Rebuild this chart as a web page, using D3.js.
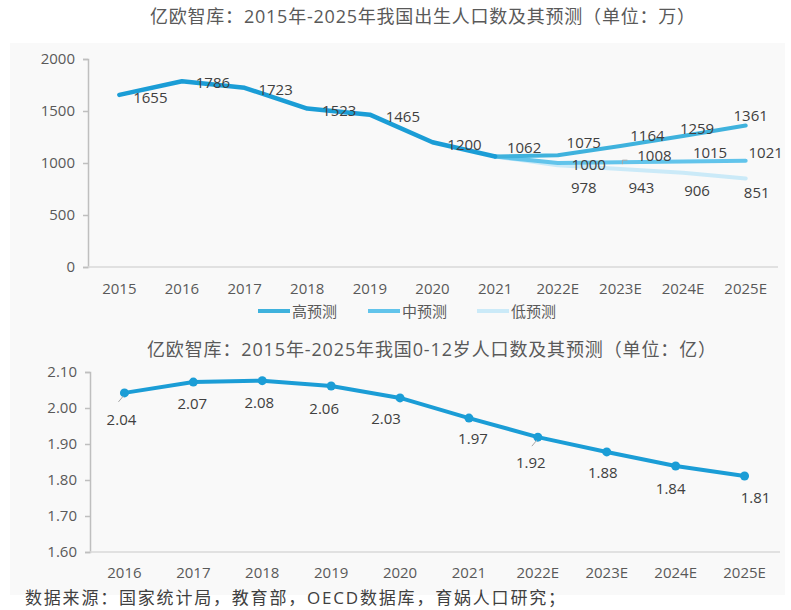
<!DOCTYPE html>
<html>
<head>
<meta charset="utf-8">
<script src="https://cdn.jsdelivr.net/npm/d3@7"></script>
<style>
  body { margin: 0; background: #fff; }
  text { font-family: "Open Sans", "Noto Sans CJK SC", sans-serif; fill: #595959; }
</style>
</head>
<body>
<svg id="chart"></svg>
<script>
// births (万)
const years1   = ['2015','2016','2017','2018','2019','2020','2021','2022E','2023E','2024E','2025E']
const histYears = ['2015','2016','2017','2018','2019','2020','2021']
const histVals  = [1655, 1786, 1723, 1523, 1465, 1200, 1062]
const fcYears   = ['2021','2022E','2023E','2024E','2025E']
const highVals  = [1062, 1075, 1164, 1259, 1361]
const midVals   = [1062, 1000, 1008, 1015, 1021]
const lowVals   = [1062,  978,  943,  906,  851]
const yTicks1   = [0, 500, 1000, 1500, 2000]
const seriesNames = ['高预测', '中预测', '低预测']

// 0-12 population (亿)
const years2  = ['2016','2017','2018','2019','2020','2021','2022E','2023E','2024E','2025E']
const kidVals = [2.042, 2.072, 2.076, 2.061, 2.028, 1.972, 1.919, 1.878, 1.839, 1.811]
const yTicks2 = [1.6, 1.7, 1.8, 1.9, 2.0, 2.1]

const title1 = '亿欧智库：2015年-2025年我国出生人口数及其预测（单位：万）'
const title2 = '亿欧智库：2015年-2025年我国0-12岁人口数及其预测（单位：亿）'
const source = '数据来源：国家统计局，教育部，OECD数据库，育娲人口研究；'

const W = 791, H = 610
const colors = { hist: '#1b9dd6', high: '#3fb2dd', mid: '#62c4eb', low: '#cbeaf8' }

// label nudges (center offsets from the point)
const histOff = [[31,2],[31,1],[31,1],[32,1],[33,1],[32,2],[29,-10]]
const highOff = [[26,-13],[27,-11],[14,-8],[5,-10]]
const midOff  = [[31,1],[34,-7],[27,-9],[20,-9]]
const lowOff  = [[26,22],[21,18],[14,17],[11,14]]
const kidOff  = [[-3,26],[-1,21],[-3,21],[-7,22],[-14,20],[4,20],[-7,25],[-4,20],[-5,22],[11,21]]

const translate = (x, y) => 'translate(' + x + ',' + y + ')'

const svg = d3.select('#chart').attr('width', W).attr('height', H)

svg.append('rect')
    .attr('x', 10).attr('y', 43).attr('width', 775).attr('height', 552)
    .attr('fill', '#f9f9f9')

// ---------- top chart ----------
const x1 = d3.scaleBand().domain(years1).range([88, 777])
const y1 = d3.scaleLinear().domain([0, 2000]).range([267, 59])
const cx1 = d => x1(d) + x1.bandwidth() / 2

svg.append('text')
    .attr('x', 150).attr('y', 16)
    .attr('dominant-baseline', 'central')
    .attr('textLength', 545).attr('lengthAdjust', 'spacing')
    .style('font-size', '18px')
    .text(title1)

const gy1 = svg.append('g').attr('transform', translate(88, 0))
    .call(d3.axisLeft(y1).tickValues(yTicks1).tickFormat(d3.format('d')).tickSize(5).tickPadding(8))
gy1.select('.domain').attr('stroke', '#bfbfbf').attr('stroke-width', 1.5)
gy1.selectAll('.tick line').attr('stroke', '#bfbfbf').attr('stroke-width', 1.5)
gy1.selectAll('text').style('font-size', '15px').style('fill', '#595959')

const gx1 = svg.append('g').attr('transform', translate(0, 267))
    .call(d3.axisBottom(x1).tickSize(0).tickPadding(16))
gx1.select('.domain').attr('d', 'M88,0H778').attr('stroke', '#d9d9d9').attr('stroke-width', 1.5)
gx1.selectAll('text').style('font-size', '15px').style('fill', '#595959')

const line1 = d3.line()
    .x(d => cx1(d[0]))
    .y(d => y1(d[1]))

const zip = (a, b) => a.map((v, i) => [v, b[i]])

const series = [
    { vals: lowVals,  color: colors.low,  w: 4 },
    { vals: midVals,  color: colors.mid,  w: 4 },
    { vals: highVals, color: colors.high, w: 4 }
]
series.forEach(s => {
    svg.append('path')
        .attr('d', line1(zip(fcYears, s.vals)))
        .attr('fill', 'none')
        .attr('stroke', s.color)
        .attr('stroke-width', s.w)
        .attr('stroke-linejoin', 'round')
        .attr('stroke-linecap', 'round')
})
svg.append('path')
    .attr('d', line1(zip(histYears, histVals)))
    .attr('fill', 'none')
    .attr('stroke', colors.hist)
    .attr('stroke-width', 4.5)
    .attr('stroke-linejoin', 'round')
    .attr('stroke-linecap', 'round')

const addLabels = (yrs, vals, off) => {
    svg.append('g').selectAll('text')
        .data(zip(yrs, vals))
        .enter()
        .append('text')
        .attr('x', (d, i) => cx1(d[0]) + off[i][0])
        .attr('y', (d, i) => y1(d[1]) + off[i][1])
        .attr('text-anchor', 'middle')
        .attr('dominant-baseline', 'central')
        .style('font-size', '15px')
        .style('fill', '#404040')
        .text(d => d[1])
}
addLabels(histYears, histVals, histOff)
addLabels(fcYears.slice(1), highVals.slice(1), highOff)
addLabels(fcYears.slice(1), midVals.slice(1), midOff)
addLabels(fcYears.slice(1), lowVals.slice(1), lowOff)

// leader for 1008
svg.append('path')
    .attr('d', 'M' + (cx1('2023E') + 2) + ',' + (y1(1008) + 2) + 'v-4h5')
    .attr('fill', 'none').attr('stroke', '#a6a6a6').attr('stroke-width', 1)

// legend
const legend = svg.append('g').attr('transform', translate(258, 311))
const legX = [0, 110, 219]
const legCol = [colors.high, colors.mid, colors.low]
seriesNames.forEach((n, i) => {
    legend.append('line')
        .attr('x1', legX[i]).attr('x2', legX[i] + 32)
        .attr('y1', 0).attr('y2', 0)
        .attr('stroke', legCol[i]).attr('stroke-width', 4)
    legend.append('text')
        .attr('x', legX[i] + 34).attr('y', 0)
        .attr('dominant-baseline', 'central')
        .style('font-size', '15px')
        .text(n)
})

// ---------- bottom chart ----------
const x2 = d3.scaleBand().domain(years2).range([90, 779])
const y2 = d3.scaleLinear().domain([1.6, 2.1]).range([552, 372])
const cx2 = d => x2(d) + x2.bandwidth() / 2

svg.append('text')
    .attr('x', 147).attr('y', 349)
    .attr('dominant-baseline', 'central')
    .attr('textLength', 569).attr('lengthAdjust', 'spacing')
    .style('font-size', '18px')
    .text(title2)

const gy2 = svg.append('g').attr('transform', translate(90, 0))
    .call(d3.axisLeft(y2).tickValues(yTicks2).tickFormat(d3.format('.2f')).tickSize(5).tickPadding(8))
gy2.select('.domain').attr('stroke', '#bfbfbf').attr('stroke-width', 1.5)
gy2.selectAll('.tick line').attr('stroke', '#bfbfbf').attr('stroke-width', 1.5)
gy2.selectAll('text').style('font-size', '15px').style('fill', '#595959')

const gx2 = svg.append('g').attr('transform', translate(0, 552))
    .call(d3.axisBottom(x2).tickSize(0).tickPadding(15))
gx2.select('.domain').attr('d', 'M90,0H780').attr('stroke', '#d9d9d9').attr('stroke-width', 1.5)
gx2.selectAll('text').style('font-size', '15px').style('fill', '#595959')

const kidData = zip(years2, kidVals)

svg.append('path')
    .attr('d', d3.line().x(d => cx2(d[0])).y(d => y2(d[1]))(kidData))
    .attr('fill', 'none')
    .attr('stroke', colors.hist)
    .attr('stroke-width', 4)
    .attr('stroke-linejoin', 'round')

svg.append('g').selectAll('circle')
    .data(kidData)
    .enter()
    .append('circle')
    .attr('cx', d => cx2(d[0]))
    .attr('cy', d => y2(d[1]))
    .attr('r', 4.5)
    .attr('fill', colors.hist)

// short leaders on 2.04 and 1.92
;['2016', '2022E'].forEach(yr => {
    const v = kidVals[years2.indexOf(yr)]
    svg.append('line')
        .attr('x1', cx2(yr) - 1).attr('y1', y2(v) + 3)
        .attr('x2', cx2(yr) - 6).attr('y2', y2(v) + 9)
        .attr('stroke', '#a6a6a6').attr('stroke-width', 1)
})

svg.append('g').selectAll('text')
    .data(kidData)
    .enter()
    .append('text')
    .attr('x', (d, i) => cx2(d[0]) + kidOff[i][0])
    .attr('y', (d, i) => y2(d[1]) + kidOff[i][1])
    .attr('text-anchor', 'middle')
    .attr('dominant-baseline', 'central')
    .style('font-size', '15px')
    .style('fill', '#404040')
    .text(d => d3.format('.2f')(d[1]))

svg.append('text')
    .attr('x', 25).attr('y', 597)
    .attr('dominant-baseline', 'central')
    .attr('textLength', 540).attr('lengthAdjust', 'spacing')
    .style('font-size', '17px')
    .style('fill', '#404040')
    .text(source)
</script>
</body>
</html>
